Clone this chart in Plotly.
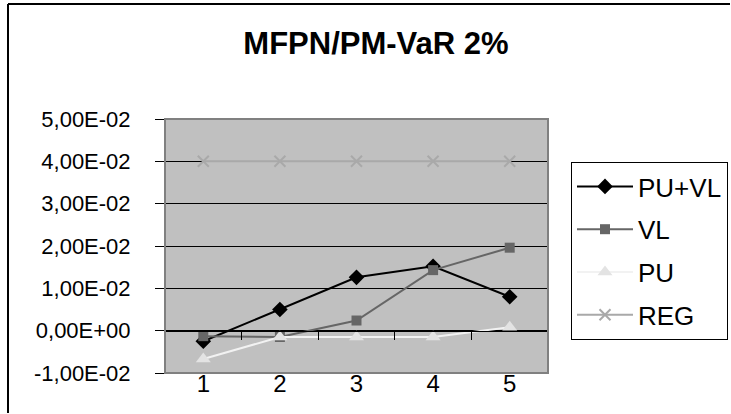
import plotly.graph_objects as go

# Periods on the category axis
periods = [1, 2, 3, 4, 5]

# Series values
pu_vl = [-0.0025, 0.0050, 0.0126, 0.0152, 0.0080]
vl = [-0.0013, -0.0015, 0.0024, 0.0143, 0.0196]
pu = [-0.0067, -0.0015, -0.0015, -0.0015, 0.0008]
reg = [0.04, 0.04, 0.04, 0.04, 0.04]

# Value axis ticks
y_tick_vals = [-0.01, 0.0, 0.01, 0.02, 0.03, 0.04, 0.05]
y_tick_text = ["-1,00E-02", "0,00E+00", "1,00E-02", "2,00E-02",
               "3,00E-02", "4,00E-02", "5,00E-02"]
x_boundaries = [1.5, 2.5, 3.5, 4.5]

FONT = "Liberation Sans, Arial, sans-serif"
W, H = 731, 414
L, R, T, B = 165, 183, 119, 41
plot_w = W - L - R
plot_h = H - T - B

series = [
    ("PU+VL", pu_vl, "#000000", "#000000", "diamond", 12),
    ("VL", vl, "#666666", "#666666", "square", 10),
    ("PU", pu, "#F2F2F2", "#E3E3E3", "triangle-up", 13),
    ("REG", reg, "#A9A9A9", "#A9A9A9", "x-thin", 11),
]

fig = go.Figure()
for name, vals, lc, mc, sym, size in series:
    fig.add_trace(go.Scatter(
        x=periods, y=vals, name=name, legendgroup=name,
        mode="lines+markers",
        line=dict(color=lc, width=2),
        marker=dict(symbol=sym, size=size, color=mc,
                    line=dict(color=mc, width=2 if sym == "x-thin" else 0)),
    ))

y_min, y_max = -0.01, 0.05
zero_pos = (0 - y_min) / (y_max - y_min)


def px_x(p):
    return (p - L) / plot_w


def px_y(p):
    return (H - B - p) / plot_h


fig.update_layout(
    width=W, height=H,
    margin=dict(l=L, r=R, t=T, b=B, pad=0, autoexpand=False),
    paper_bgcolor="white",
    plot_bgcolor="#C0C0C0",
    font=dict(family=FONT, size=22, color="black"),
    title=dict(text="<b>MFPN/PM-VaR 2%</b>", x=376 / W, xanchor="center",
               y=1 - 43 / H, yanchor="middle", xref="container", yref="container",
               font=dict(family=FONT, size=31, color="black")),
    showlegend=True,
    legend=dict(
        x=px_x(571), y=px_y(162),
        xanchor="left", yanchor="top",
        bordercolor="#000000", borderwidth=1, bgcolor="white",
        font=dict(family=FONT, size=26, color="black"),
        itemwidth=56, tracegroupgap=6, traceorder="grouped",
    ),
    xaxis=dict(
        range=[0.5, 5.5], tickvals=periods, ticktext=[str(p) for p in periods],
        tickfont=dict(family=FONT, size=24, color="black"),
        showgrid=False, zeroline=False, showline=False, ticks="",
        ticklabelstandoff=-6, fixedrange=True,
    ),
    xaxis2=dict(
        overlaying="x", anchor="free", position=zero_pos, side="bottom",
        range=[0.5, 5.5], tickvals=x_boundaries, showticklabels=False,
        showline=True, linecolor="#000000", linewidth=1,
        ticks="outside", ticklen=8, tickcolor="#000000", tickwidth=1,
        showgrid=False, zeroline=False,
    ),
    yaxis=dict(
        range=[y_min, y_max], tickvals=y_tick_vals, ticktext=y_tick_text,
        tickfont=dict(family=FONT, size=22, color="black"),
        showgrid=True, gridcolor="#000000", gridwidth=1,
        zeroline=True, zerolinecolor="#000000", zerolinewidth=1,
        showline=True, linecolor="#000000", linewidth=1,
        ticks="outside", ticklen=9, tickcolor="#000000",
        ticklabelstandoff=20, fixedrange=True,
    ),
    shapes=[
        # plot frame
        dict(type="rect", xref="paper", yref="paper", x0=0, x1=1, y0=0, y1=1,
             line=dict(color="#808080", width=2), layer="above"),
        # chart area border (left and top edges, kept inside the page)
        dict(type="line", xref="paper", yref="paper",
             x0=px_x(8), x1=px_x(8), y0=px_y(H - 1), y1=px_y(4),
             line=dict(color="#000000", width=2), layer="below"),
        dict(type="line", xref="paper", yref="paper",
             x0=px_x(8), x1=px_x(W - 1), y0=px_y(4), y1=px_y(4),
             line=dict(color="#000000", width=2), layer="below"),
    ],
)
# invisible carrier so the zero-line axis is drawn
fig.add_trace(go.Scatter(x=[1], y=[0], xaxis="x2", mode="markers",
                         marker=dict(opacity=0), showlegend=False, hoverinfo="skip"))

fig.write_html("out.html")
